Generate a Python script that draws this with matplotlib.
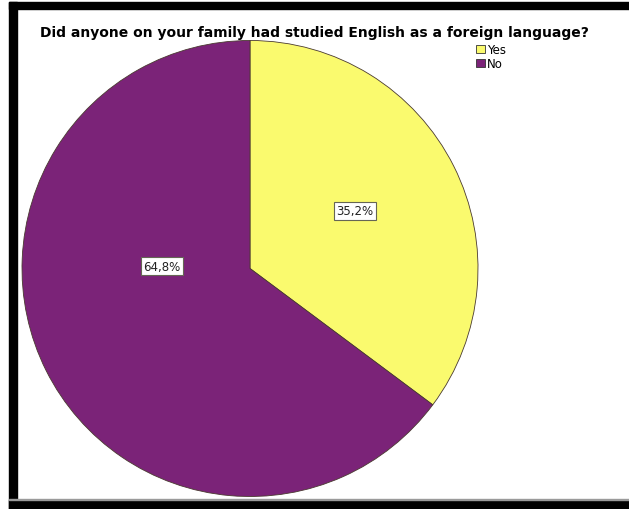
# Pie chart: family members who studied English as a foreign language
import matplotlib.pyplot as plt
from matplotlib.patches import Rectangle

answers = ['Yes', 'No']
percents = [35.2, 64.8]
colors = ['#FAFA6E', '#7B2378']

W, H = 629, 510
fig = plt.figure(figsize=(W / 100, H / 100), dpi=100)
fig.patch.set_facecolor('white')
plt.rcParams['font.family'] = ['DejaVu Sans']

# black frame on the left, top and bottom
def px_rect(x0, y0, x1, y1, color):
    fig.patches.append(Rectangle((x0 / W, 1 - y1 / H), (x1 - x0) / W, (y1 - y0) / H,
                                 transform=fig.transFigure, color=color, zorder=0))

px_rect(9, 3, 17, 510, 'black')
px_rect(9, 3, 629, 10, 'black')
px_rect(9, 501, 629, 510, 'black')
px_rect(9, 500, 629, 501, '#9a9a9a')

# pie axes: centre (250, 270), radius 228 px
cx, cy, r = 250, 269.5, 228
ax = fig.add_axes([(cx - r) / W, 1 - (cy + r) / H, 2 * r / W, 2 * r / H])
wedges, _ = ax.pie(percents, colors=colors, startangle=90, counterclock=False,
                   wedgeprops=dict(edgecolor='#4a3a30', linewidth=0.6))
ax.set_xlim(-1, 1)
ax.set_ylim(-1, 1)
ax.set_aspect('equal')
ax.axis('off')

# percentage labels (pixel positions of label centres)
label_pos = [(355, 212), (162, 267)]
for (lx, ly), p in zip(label_pos, percents):
    fig.text(lx / W, 1 - ly / H, f'{p:.1f}%'.replace('.', ','), ha='center', va='center',
             fontsize=8.5, color='#222222',
             bbox=dict(boxstyle='square,pad=0.2', facecolor='white', edgecolor='#666655', linewidth=0.8))

fig.text(314 / W, 1 - 33 / H, 'Did anyone on your family had studied English as a foreign language?',
         ha='center', va='center', fontsize=10, fontweight='bold')

leg = fig.legend(wedges, answers, loc='upper left', bbox_to_anchor=(476 / W, 1 - 44 / H),
                 frameon=False, fontsize=8.5, handlelength=0.75, handleheight=0.75,
                 handletextpad=0.2, labelspacing=0.1, borderpad=0, borderaxespad=0)
for h in leg.legend_handles:
    h.set_edgecolor('#333333')

plt.savefig('out.png', dpi=100)
